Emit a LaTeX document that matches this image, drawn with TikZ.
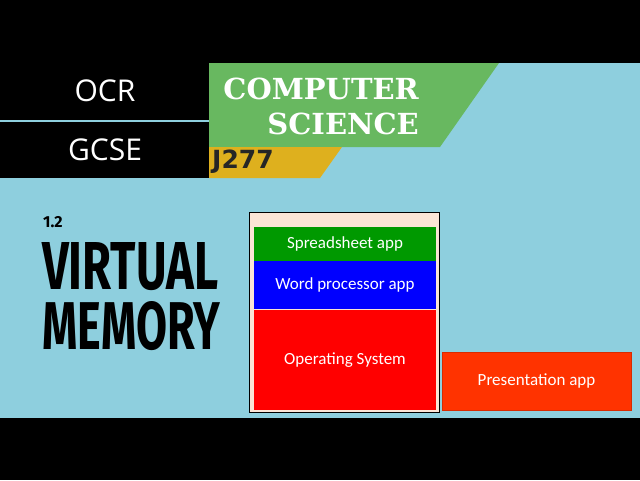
\documentclass[tikz,border=0pt]{standalone}
\usepackage{fontspec}
\usepackage{graphicx}
\setmainfont{Carlito}
\newfontfamily\tagfont{Open Sans}
\newfontfamily\slabfont{DejaVu Serif}
\newfontfamily\codefont{DejaVu Sans}
\newfontfamily\brushfont{Fira Sans}
\usetikzlibrary{positioning}
\definecolor{SkyBack}{RGB}{142,207,222}
\definecolor{BannerGreen}{RGB}{104,184,96}
\definecolor{BannerGold}{RGB}{222,176,30}
\definecolor{PeachFill}{RGB}{251,229,214}
\definecolor{SheetGreen}{RGB}{0,153,0}
\definecolor{WordBlue}{RGB}{0,0,255}
\definecolor{OsRed}{RGB}{255,0,0}
\definecolor{SlideOrange}{RGB}{255,51,0}

\begin{document}
\begin{tikzpicture}[x=1pt,y=-1pt,
  tagtext/.style={font=\tagfont\fontsize{30}{32}\selectfont,text=white},
  block/.style={inner sep=0pt,minimum width=182pt,text=white,font=\fontsize{17}{20}\selectfont},
  headline/.style={anchor=west,inner sep=0pt,text=black}]
  \fill[SkyBack] (0,0) rectangle (640,480);
  \useasboundingbox (0,0) rectangle (640,480);
  \fill[black] (0,0) rectangle (640,63);
  \fill[black] (0,418) rectangle (640,480);

  % banner
  \fill[black] (0,63) rectangle (209,119.5);
  \fill[black] (0,121.5) rectangle (209,178);
  \fill[BannerGreen] (209,63) -- (499,63) -- (440,147) -- (209,147) -- cycle;
  \fill[BannerGold] (209,147) -- (342,147) -- (320,178) -- (209,178) -- cycle;
  \node[tagtext] (ocr) at (105,91) {OCR};
  \node[tagtext] (gcse) at (105,150) {GCSE};
  \node[anchor=east,align=right,inner sep=0pt,text=white,
    font=\slabfont\bfseries\fontsize{29}{35}\selectfont] (subject) at (419,106) {COMPUTER\\SCIENCE};
  \node[anchor=west,inner sep=0pt,text=black!85,
    font=\codefont\bfseries\fontsize{25}{28}\selectfont] (spec) at (212,162) {J277};

  % topic title
  \node[headline,font=\brushfont\bfseries\fontsize{16}{18}\selectfont] (topicno) at (43,222) {1.2};
  \node[headline,font=\brushfont\bfseries] (virt) at (42,267) {\resizebox{176pt}{47pt}{VIRTUAL}};
  \node[headline,font=\brushfont\bfseries] (mem) at (42,326) {\resizebox{178pt}{48pt}{MEMORY}};

  % main memory
  \node[draw=black,line width=1pt,fill=PeachFill,minimum width=190pt,minimum height=200pt,inner sep=0pt] (ram) at (344,312) {};
  \node[block,fill=SheetGreen,minimum height=34pt] (sheet) at (345,244) {Spreadsheet app};
  \node[block,fill=WordBlue,minimum height=48pt,below=0pt of sheet] (word) {Word processor app};
  \node[block,fill=OsRed,minimum height=100pt,below=0pt of word] (os) {Operating System};
  \node[block,fill=SlideOrange,draw=SlideOrange!85!black,minimum width=189pt,minimum height=58pt] (slides) at (536.5,381) {Presentation app};
\end{tikzpicture}
\end{document}
